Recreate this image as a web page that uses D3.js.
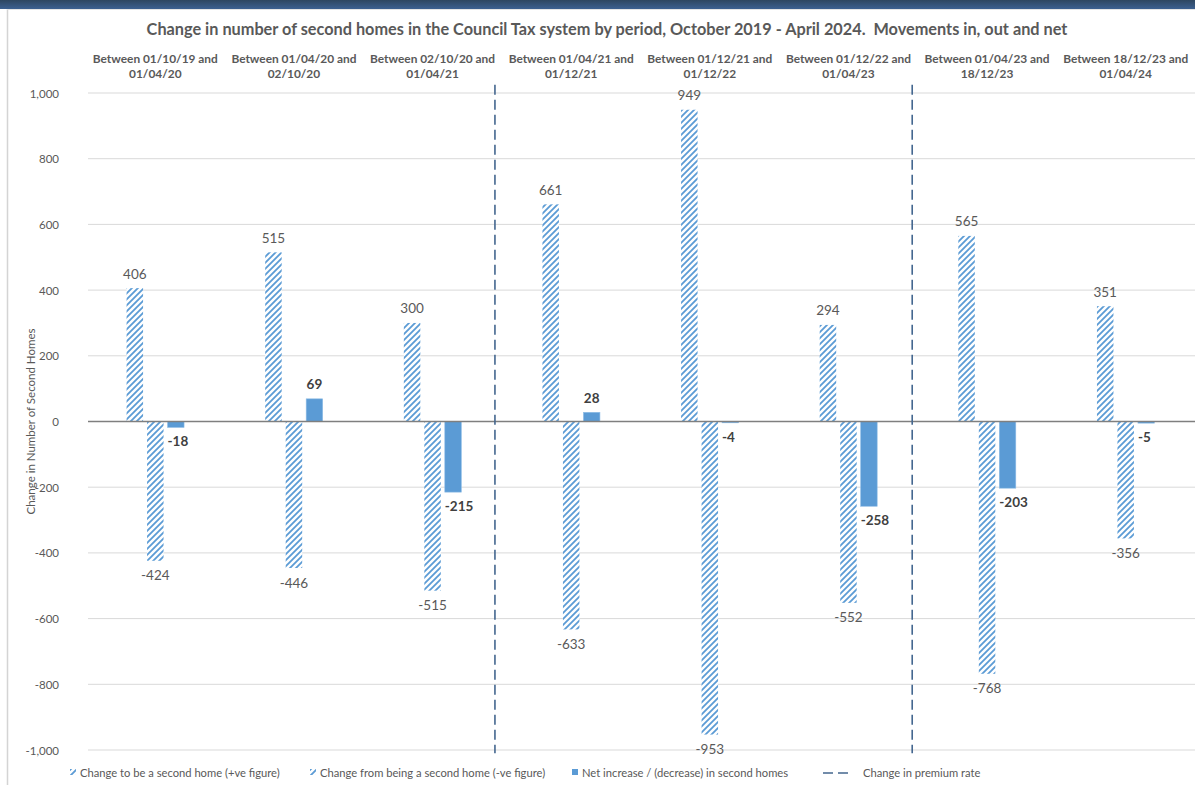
<!DOCTYPE html>
<html><head><meta charset="utf-8">
<script src="https://cdn.jsdelivr.net/npm/d3@7"></script>
<style>
html,body{margin:0;padding:0;background:#fff;}
svg{display:block;font-family:Lato,"Open Sans",sans-serif;}
</style></head>
<body>
<svg id="chart" width="1195" height="785"></svg>
<script>
const categories = [
  ["Between 01/10/19 and","01/04/20"],
  ["Between 01/04/20 and","02/10/20"],
  ["Between 02/10/20 and","01/04/21"],
  ["Between 01/04/21 and","01/12/21"],
  ["Between 01/12/21 and","01/12/22"],
  ["Between 01/12/22 and","01/04/23"],
  ["Between 01/04/23 and","18/12/23"],
  ["Between 18/12/23 and","01/04/24"]
];
const toSecond   = [406, 515, 300, 661, 949, 294, 565, 351];
const fromSecond = [-424, -446, -515, -633, -953, -552, -768, -356];
const netChange  = [-18, 69, -215, 28, -4, -258, -203, -5];
const premiumChangeAt = [2.95, 5.96]; // position in category units
const yTicks = [-1000, -800, -600, -400, -200, 0, 200, 400, 600, 800, 1000];
const seriesNames = ["Change to be a second home (+ve figure)", "Change from being a second home (-ve figure)", "Net increase / (decrease) in second homes", "Change in premium rate"];
const title = "Change in number of second homes in the Council Tax system by period, October 2019 - April 2024.  Movements in, out and net";
const yTitle = "Change in Number of Second Homes";

const fmt = d3.formatLocale({decimal:".", thousands:",", grouping:[3], currency:["",""], minus:"-"}).format(",");

const svg = d3.select("#chart");
const W = 1195, H = 785;
const blue = "#5b9bd5", txt = "#595959", dashCol = "#44678f";

// header bar
const defs = svg.append("defs");
const g1 = defs.append("linearGradient").attr("id","hdr").attr("x1",0).attr("y1",0).attr("x2",0).attr("y2",1);
g1.append("stop").attr("offset","0").attr("stop-color","#2e4660");
g1.append("stop").attr("offset","1").attr("stop-color","#3c6090");
svg.append("rect").attr("x",0).attr("y",0).attr("width",W).attr("height",9).attr("fill","url(#hdr)");
svg.append("line").attr("x1",7.5).attr("x2",7.5).attr("y1",9).attr("y2",H).attr("stroke","#d4d4d4").attr("stroke-width",1.5);
svg.append("line").attr("x1",7).attr("x2",W).attr("y1",9.5).attr("y2",9.5).attr("stroke","#e4e4e4").attr("stroke-width",1);

// hatch pattern
const pat = defs.append("pattern").attr("id","hatch").attr("patternUnits","userSpaceOnUse")
  .attr("width",6).attr("height",6);
pat.append("rect").attr("width",6).attr("height",6).attr("fill","#fff");
pat.append("path").attr("d","M-1.5,1.5 L1.5,-1.5 M0,6 L6,0 M4.5,7.5 L7.5,4.5").attr("stroke",blue).attr("stroke-width",1.8);

const x0 = d3.scaleBand().domain(d3.range(categories.length)).range([86, 1195]);
const x1 = d3.scaleBand().domain([0,1,2]).range([0, x0.bandwidth()]).paddingInner(0.195).paddingOuter(1.98);
const xl = d3.scaleLinear().domain([0, categories.length]).range([86, 1195]);
const y = d3.scaleLinear().domain([-1000, 1000]).range([750, 93]);

// title
svg.append("text").attr("x", 607).attr("y", 35).attr("text-anchor","middle").style("white-space","pre")
  .attr("font-size", 16.3).attr("font-weight","bold").attr("fill", txt).text(title);

// category labels
const cl = svg.append("g");
categories.forEach((c,i)=>{
  const t = cl.append("text").attr("text-anchor","middle").attr("font-size",11.9).attr("font-weight","bold").attr("fill",txt);
  t.append("tspan").attr("x", x0(i)+x0.bandwidth()/2).attr("y",63).text(c[0]);
  t.append("tspan").attr("x", x0(i)+x0.bandwidth()/2).attr("y",78).text(c[1]);
});

// gridlines & y axis
const yAxis = d3.axisLeft(y).tickValues(yTicks).tickSize(0).tickPadding(0).tickFormat(fmt);
const ga = svg.append("g").attr("transform","translate(59,0)").call(yAxis);
ga.select(".domain").remove();
ga.selectAll("text").attr("font-size",11.5).attr("fill",txt).attr("font-family","Lato, sans-serif").attr("dy","0.35em");
svg.append("g").selectAll("line").data(yTicks.filter(d=>d!==0)).join("line")
  .attr("x1",88).attr("x2",W).attr("y1",d=>y(d)).attr("y2",d=>y(d)).attr("stroke","#d9d9d9").attr("stroke-width",1);

svg.append("text").attr("transform",`translate(35,${y(0)}) rotate(-90)`).attr("text-anchor","middle")
  .attr("font-size",11.5).attr("fill",txt).text(yTitle);

// bars
const bars = svg.append("g");
const series = [toSecond, fromSecond, netChange];
series.forEach((arr, s)=>{
  bars.selectAll(null).data(arr).join("rect")
    .attr("x",(d,i)=>x0(i)+x1(s)).attr("width",x1.bandwidth())
    .attr("y",d=>y(Math.max(0,d))).attr("height",d=>Math.abs(y(d)-y(0)))
    .attr("fill", s<2 ? "url(#hatch)" : blue)
    .attr("stroke", s<2 ? "none" : "#8fbde6").attr("stroke-width", s<2?0:0.6);
});
// zero line
svg.append("line").attr("x1",88).attr("x2",W).attr("y1",y(0)).attr("y2",y(0)).attr("stroke","#7f7f7f").attr("stroke-width",1.3);

// premium change dashed lines
svg.append("g").selectAll("line").data(premiumChangeAt).join("line")
  .attr("x1",d=>xl(d)).attr("x2",d=>xl(d)).attr("y1",y(1025)).attr("y2",y(-1010))
  .attr("stroke",dashCol).attr("stroke-width",1.6).attr("stroke-dasharray","10,5");

// labels
const lab = svg.append("g").attr("font-size",13.5);
[toSecond, fromSecond].forEach((arr,s)=>{
  lab.selectAll(null).data(arr).join("text")
    .attr("x",(d,i)=>x0(i)+x1(s)+x1.bandwidth()/2)
    .attr("y",d=> d>=0 ? y(d)-9.5 : y(d)+19.5)
    .attr("text-anchor","middle").attr("fill",txt).text(d=>fmt(d));
});
lab.selectAll(null).data(netChange).join("text")
  .attr("x",(d,i)=> d>=0 ? x0(i)+x1(2)+x1.bandwidth()/2 : x0(i)+x1(2))
  .attr("y",d=> d>=0 ? y(d)-9.5 : y(d)+19)
  .attr("text-anchor",d=> d>=0 ? "middle" : "start")
  .attr("font-weight","bold").attr("fill","#404040").text(d=>fmt(d));

// legend
const lg = svg.append("g").attr("font-size",11.2).attr("fill",txt);
const legX = [70, 310, 572, 823];
const ly = 773;
[0,1].forEach(k=>{
  lg.append("rect").attr("x",legX[k]).attr("y",ly-4).attr("width",6).attr("height",6).attr("fill","url(#hatch)");
});
lg.append("rect").attr("x",legX[2]).attr("y",ly-4).attr("width",6).attr("height",6).attr("fill",blue);
lg.append("line").attr("x1",legX[3]).attr("x2",legX[3]+25).attr("y1",ly).attr("y2",ly)
  .attr("stroke",dashCol).attr("stroke-width",1.6).attr("stroke-dasharray","10,5");
seriesNames.forEach((n,k)=>{
  lg.append("text").attr("x", k<3 ? legX[k]+10 : legX[3]+40).attr("y",ly+3.5).text(n);
});
</script>
</body></html>
